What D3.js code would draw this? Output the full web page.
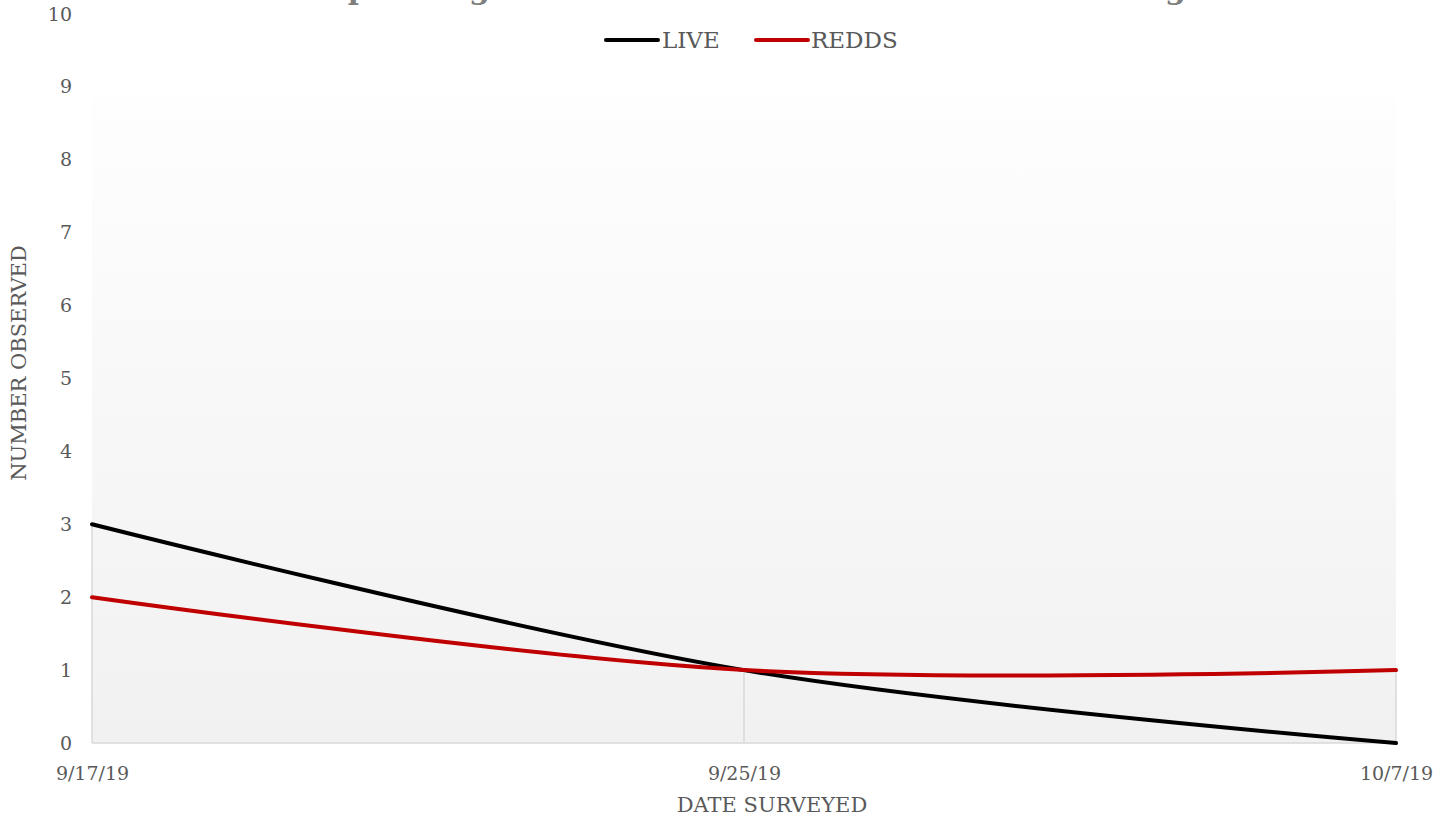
<!DOCTYPE html>
<html><head><meta charset="utf-8">
<script src="https://cdn.jsdelivr.net/npm/d3@7"></script>
<style>
html,body{margin:0;padding:0;background:#fff;}
svg{display:block;}
text{font-family:"DejaVu Serif","Liberation Serif",serif;fill:#595959;}
</style></head>
<body>
<svg id="chart" width="1451" height="818"></svg>
<script>
const categories = ["9/17/19", "9/25/19", "10/7/19"];
const liveValues = [3, 1, 0];
const reddsValues = [2, 1, 1];
const yTicks = [0,1,2,3,4,5,6,7,8,9,10];
const seriesNames = ["LIVE", "REDDS"];
const seriesColors = ["#000000", "#c00000"];
const titleText = "Spawning Observations at Lower Creek Monitoring";

const svg = d3.select("#chart");
const plotL = 92, plotR = 1396, plotT = 14, plotB = 743;

const x = d3.scalePoint().domain(categories).range([plotL, plotR]);
const y = d3.scaleLinear().domain([0, 10]).range([plotB, plotT]);

// gradient plot background
const defs = svg.append("defs");
const grad = defs.append("linearGradient").attr("id","bg").attr("x1",0).attr("y1",0).attr("x2",0).attr("y2",1);
grad.append("stop").attr("offset","0%").attr("stop-color","#fefefe");
grad.append("stop").attr("offset","100%").attr("stop-color","#f1f1f1");
svg.append("rect").attr("x", plotL).attr("y", 97).attr("width", plotR-plotL).attr("height", plotB-97).attr("fill","url(#bg)");

// title (mostly above the visible area, as in the reference)
svg.append("text").attr("x", 756).attr("y", -1).attr("text-anchor","middle")
  .style("font-size","30px").style("font-weight","bold").style("fill","#7f7f7f")
  .text(titleText);

// drop lines
categories.forEach((c,i)=>{
  const mx = Math.max(liveValues[i], reddsValues[i]);
  svg.append("line").attr("x1", x(c)).attr("x2", x(c)).attr("y1", y(mx)).attr("y2", y(0))
    .attr("stroke","#d9d9d9").attr("stroke-width",1.5);
});

// x axis line
svg.append("line").attr("x1",plotL).attr("x2",plotR).attr("y1",y(0)).attr("y2",y(0))
  .attr("stroke","#d9d9d9").attr("stroke-width",1.5);

// y axis labels
const yAxis = d3.axisLeft(y).tickValues(yTicks).tickSize(0).tickPadding(0);
const gy = svg.append("g").attr("transform",`translate(${plotL-20},0)`).call(yAxis);
gy.select(".domain").remove();
gy.selectAll("text").style("font-size","19px").style("fill","#595959").attr("font-family",null);

// x axis labels
const xAxis = d3.axisBottom(x).tickSize(0).tickPadding(0);
const gx = svg.append("g").attr("transform",`translate(0,${plotB+37})`).call(xAxis);
gx.select(".domain").remove();
gx.selectAll("text").style("font-size","19px").style("fill","#595959").attr("dy",0).attr("font-family",null);

// axis titles
svg.append("text").attr("x", 772).attr("y", 812).attr("text-anchor","middle")
  .style("font-size","21px").text("DATE SURVEYED");
svg.append("text").attr("transform","translate(26,363) rotate(-90)").attr("text-anchor","middle")
  .style("font-size","21px").text("NUMBER OBSERVED");

// lines
const line = d3.line().x((d,i)=>x(categories[i])).y(d=>y(d)).curve(d3.curveCardinal.tension(0));
[liveValues, reddsValues].forEach((vals, k)=>{
  svg.append("path").datum(vals).attr("d", line).attr("fill","none")
    .attr("stroke", seriesColors[k]).attr("stroke-width",4).attr("stroke-linecap","round");
});

// legend
const legendItems = [{x:606, tx:662}, {x:756, tx:811}];
seriesNames.forEach((n,k)=>{
  svg.append("line").attr("x1",legendItems[k].x).attr("x2",legendItems[k].x+52).attr("y1",40).attr("y2",40)
    .attr("stroke",seriesColors[k]).attr("stroke-width",4).attr("stroke-linecap","round");
  svg.append("text").attr("x",legendItems[k].tx).attr("y",48).style("font-size","23px").text(n);
});
</script>
</body></html>
